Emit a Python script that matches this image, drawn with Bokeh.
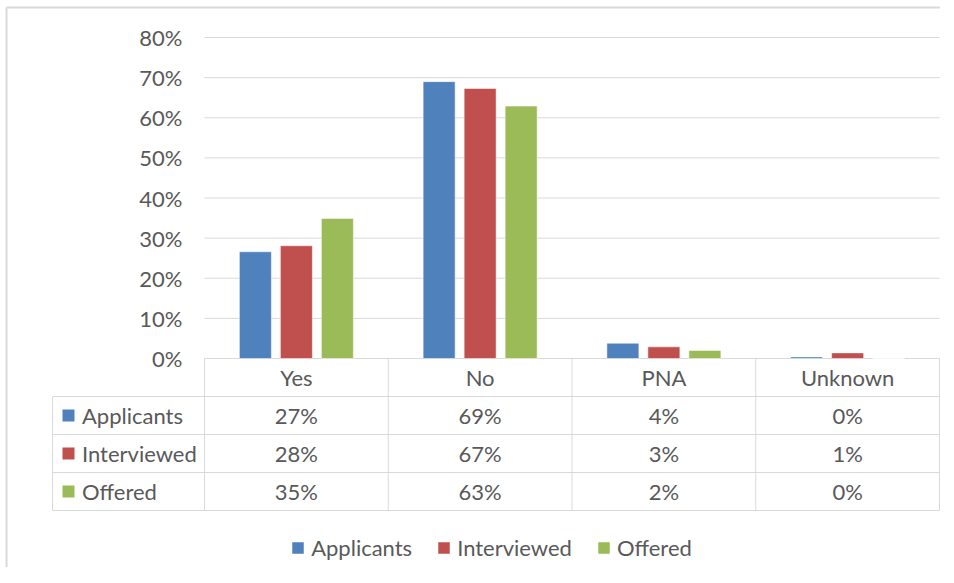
from bokeh.plotting import figure
from bokeh.models import (Range1d, FixedTicker, NumeralTickFormatter, LinearAxis,
                          ColumnDataSource, Legend, LegendItem)
from bokeh.transform import dodge
from bokeh.core.properties import value
from bokeh.embed import file_html
from bokeh.resources import INLINE

# ---------------- data ----------------
categories = ["Yes", "No", "PNA", "Unknown"]
series_names = ["Applicants", "Interviewed", "Offered"]
applicants = [0.266, 0.690, 0.038, 0.004]
interviewed = [0.281, 0.673, 0.029, 0.014]
offered = [0.349, 0.629, 0.020, 0.000]
y_ticks = [0.0, 0.1, 0.2, 0.3, 0.4, 0.5, 0.6, 0.7, 0.8]

# ---------------- style / layout (pixel positions in the picture) ----------------
colors = ["#4F81BD", "#C0504D", "#9BBB59"]
TEXT = "#595959"
GRID = "#d9d9d9"
FONT = "Lato"
FSIZE = "22px"

W, H = 940, 567
FRAME_L, FRAME_R = 204, 939      # plot area of the bars
BASE_Y = 358                     # 0 % line
PXY = (358 - 37) / 0.8           # pixels per unit of y
CAT_PX = (FRAME_R - FRAME_L) / len(categories)
ROW_H = 38
TABLE_L = 52
KEY_CX = 68
LABEL_X = 81.5
BORDER_X, BORDER_Y = 6, 7

BAR_W = 32 / CAT_PX
BAR_STEP = 41 / CAT_PX

all_series = [applicants, interviewed, offered]
keys = ["applicants", "interviewed", "offered"]
n = len(categories)
nrows = len(series_names) + 1


def dx(px):  # picture x -> data x
    return (px - FRAME_L) / CAT_PX


def dy(py):  # picture y -> data y
    return (BASE_Y - py) / PXY


cat_x = [i + 0.5 for i in range(n)]
src = ColumnDataSource(dict(x=cat_x, cat=categories, applicants=applicants,
                            interviewed=interviewed, offered=offered))

p = figure(width=W, height=H, output_backend="svg", toolbar_location=None,
           x_range=Range1d(dx(0), dx(W)), y_range=Range1d(dy(H), dy(0)),
           x_axis_location=None, y_axis_location=None, min_border=0)
p.outline_line_color = None
p.grid.visible = False

# horizontal grid lines of the bar area (only over the plot area)
p.segment(x0=[0] * len(y_ticks), x1=[n] * len(y_ticks), y0=y_ticks, y1=y_ticks,
          line_color=GRID, line_width=1, level="underlay")

# y axis, drawn at the left edge of the plot area
yax = LinearAxis(fixed_location=0, ticker=FixedTicker(ticks=y_ticks),
                 formatter=NumeralTickFormatter(format="0%"))
yax.axis_line_color = None
yax.major_tick_line_color = None
yax.minor_tick_line_color = None
yax.major_tick_out = 0
yax.major_tick_in = 0
yax.major_label_standoff = 22
yax.major_label_text_font = FONT
yax.major_label_text_font_size = FSIZE
yax.major_label_text_color = TEXT
p.add_layout(yax, "left")

bar_renderers = []
for i, (k, c) in enumerate(zip(keys, colors)):
    r = p.vbar(x=dodge("x", (i - 1) * BAR_STEP), top=k, width=BAR_W,
               source=src, fill_color=c, line_color="white", line_alpha=0.5, line_width=1)
    bar_renderers.append(r)

# ---------------- data table ----------------
left = dx(TABLE_L)
x0s, y0s, x1s, y1s = [], [], [], []
for rr in range(1, nrows + 1):
    yy = dy(BASE_Y + rr * ROW_H)
    x0s.append(left); y0s.append(yy); x1s.append(n); y1s.append(yy)
for cidx in range(n + 1):
    x0s.append(cidx); y0s.append(0); x1s.append(cidx); y1s.append(dy(BASE_Y + nrows * ROW_H))
x0s.append(left); y0s.append(dy(BASE_Y + ROW_H)); x1s.append(left); y1s.append(dy(BASE_Y + nrows * ROW_H))
p.segment(x0=x0s, y0=y0s, x1=x1s, y1=y1s, line_color=GRID, line_width=1)

p.text(x=cat_x, y=[dy(BASE_Y + ROW_H / 2)] * n, text=categories,
       text_font=value(FONT), text_font_size=FSIZE, text_color=TEXT,
       text_align="center", text_baseline="middle")

row_y = [dy(BASE_Y + (r + 1.5) * ROW_H) for r in range(len(series_names))]
p.rect(x=[dx(KEY_CX)] * len(series_names), y=row_y, width=12, height=12,
       width_units="screen", height_units="screen", fill_color=colors, line_color=None)
p.text(x=[dx(LABEL_X)] * len(series_names), y=row_y, text=series_names,
       text_font=value(FONT), text_font_size=FSIZE, text_color=TEXT,
       text_align="left", text_baseline="middle")
for yc, vals in zip(row_y, all_series):
    p.text(x=cat_x, y=[yc] * n, text=[f"{round(v * 100):.0f}%" for v in vals],
           text_font=value(FONT), text_font_size=FSIZE, text_color=TEXT,
           text_align="center", text_baseline="middle")

# outer chart border (top and left edges)
p.segment(x0=[dx(BORDER_X), dx(BORDER_X)], y0=[dy(BORDER_Y), dy(BORDER_Y)],
          x1=[dx(W), dx(BORDER_X)], y1=[dy(BORDER_Y), dy(H)],
          line_color=GRID, line_width=2)

# ---------------- legend ----------------
legend = Legend(items=[LegendItem(label=nm, renderers=[rr]) for nm, rr in zip(series_names, bar_renderers)],
                orientation="horizontal", location=(290.2, 6),
                glyph_width=15, glyph_height=15, label_standoff=6, spacing=24,
                padding=0, margin=0, border_line_color=None, background_fill_alpha=0,
                label_text_font=FONT, label_text_font_size=FSIZE, label_text_color=TEXT)
p.add_layout(legend)

open("out.html", "w").write(file_html(p, INLINE))
